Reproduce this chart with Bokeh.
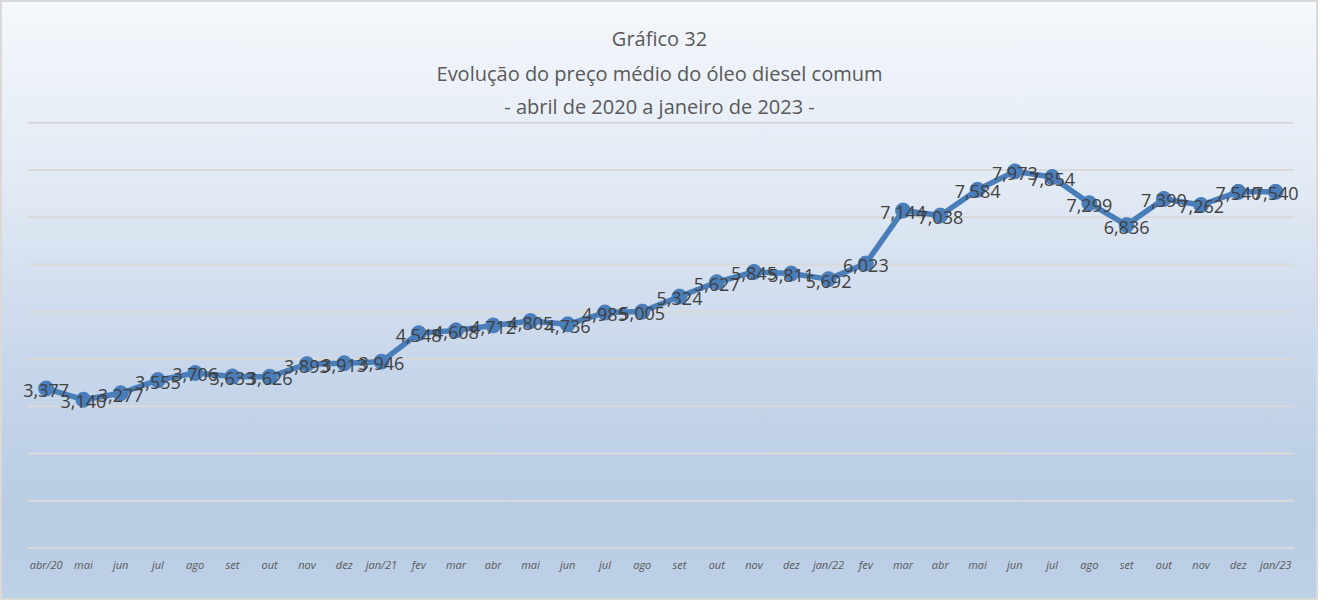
from bokeh.plotting import figure
from bokeh.models import ColumnDataSource, FixedTicker, Title, Range1d, LabelSet
from bokeh.core.properties import value
from bokeh.embed import file_html
from bokeh.resources import INLINE

tick_labels = ["abr/20", "mai", "jun", "jul", "ago", "set", "out", "nov", "dez", "jan/21",
               "fev", "mar", "abr", "mai", "jun", "jul", "ago", "set", "out", "nov", "dez", "jan/22",
               "fev", "mar", "abr", "mai", "jun", "jul", "ago", "set", "out", "nov", "dez", "jan/23"]
prices = [3.377, 3.140, 3.277, 3.555, 3.706, 3.633, 3.626, 3.893, 3.913, 3.946,
          4.548, 4.608, 4.712, 4.805, 4.736, 4.985, 5.005, 5.324, 5.627, 5.845, 5.811, 5.692,
          6.023, 7.144, 7.038, 7.584, 7.973, 7.854, 7.299, 6.836, 7.390, 7.262, 7.540, 7.540]
grid_values = [0, 1, 2, 3, 4, 5, 6, 7, 8, 9]
title_lines = ["Gráfico 32", "Evolução do preço médio do óleo diesel comum",
               "- abril de 2020 a janeiro de 2023 -"]

n = len(prices)
xs = list(range(n))
labels = [f"{v:.3f}".replace(".", ",") for v in prices]
src = ColumnDataSource(dict(x=xs, y=prices, lab=labels))
gsrc = ColumnDataSource(dict(x0=[-0.5] * len(grid_values), x1=[n - 0.5] * len(grid_values),
                             y=grid_values))

FONT = "Open Sans"

p = figure(width=1318, height=600, output_backend="svg", toolbar_location=None,
           x_range=Range1d(-1.037, 33.963), y_range=Range1d(-0.03, 9.05),
           min_border_left=7, min_border_right=7, min_border_bottom=51, min_border_top=120)
p.styles = {"background-image": "linear-gradient(to bottom, #f5f8fc 0%, #e2eaf4 30%, #c8d7eb 60%, #b8cce4 85%, #bdd0e6 100%)",
            "box-shadow": "inset 0 0 0 2px #d9d9d9"}
p.background_fill_color = None
p.border_fill_color = None
p.outline_line_color = None

standoffs = [8, 5, 2]
for t, s in reversed(list(zip(title_lines, standoffs))):
    p.add_layout(Title(text=t, align="center", text_font=FONT, text_font_size="20px",
                       text_font_style="normal", text_color="#595959", standoff=s), "above")

p.yaxis.visible = False
p.ygrid.visible = False
p.xgrid.visible = False
p.segment(x0="x0", x1="x1", y0="y", y1="y", source=gsrc, line_color="#d9d9d9", line_width=2)

p.xaxis.ticker = FixedTicker(ticks=xs)
p.xaxis.major_label_overrides = {i: t for i, t in enumerate(tick_labels)}
p.xaxis.axis_line_color = None
p.xaxis.major_tick_line_color = None
p.xaxis.minor_tick_line_color = None
p.xaxis.major_label_text_font = FONT
p.xaxis.major_label_text_font_size = "11px"
p.xaxis.major_label_text_font_style = "italic"
p.xaxis.major_label_text_color = "#595959"
p.xaxis.major_label_standoff = 1

p.line("x", "y", source=src, line_color="#4a7ebb", line_width=5.5)
p.scatter("x", "y", source=src, size=15, fill_color="#4a7ebb", line_color="#4a7ebb")
p.add_layout(LabelSet(x="x", y="y", text="lab", source=src, text_align="center",
                      text_baseline="middle", y_offset=-2, text_font=value(FONT),
                      text_font_size=value("18px"), text_color=value("#404040")))

open("out.html", "w").write(file_html(p, INLINE))
